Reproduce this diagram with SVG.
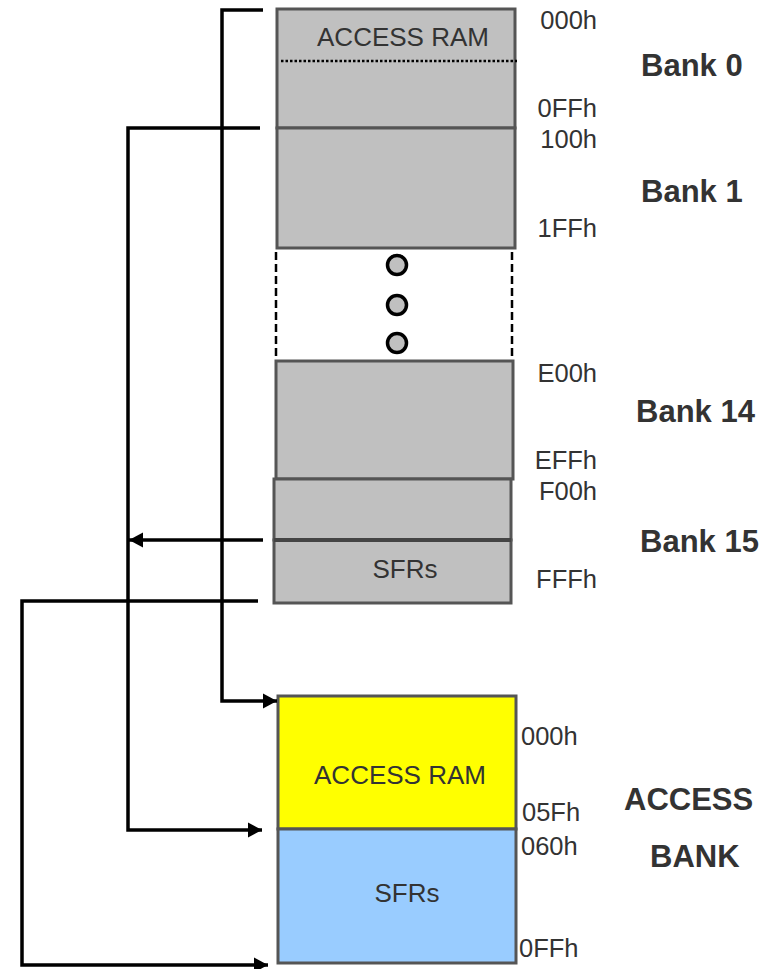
<svg xmlns="http://www.w3.org/2000/svg" width="770" height="969" viewBox="0 0 770 969">
<defs>
<style>
.bank{fill:#c0c0c0;stroke:#555555;stroke-width:3}
.hex{font-family:"Liberation Sans",Arial,sans-serif;font-size:25.5px;fill:#333333}
.lbl{font-family:"Liberation Sans",Arial,sans-serif;font-size:31px;font-weight:bold;fill:#333333}
.in{font-family:"Liberation Sans",Arial,sans-serif;font-size:26px;fill:#333333;text-anchor:middle}
.conn{fill:none;stroke:#000000;stroke-width:3.5}
.dot{fill:#c0c0c0;stroke:#000000;stroke-width:3.5}
</style>
<marker id="arr" markerUnits="userSpaceOnUse" markerWidth="15" markerHeight="16" refX="14" refY="8" orient="auto">
<path d="M0,0.5 L14,8 L0,15.5 z" fill="#000000"/>
</marker>
</defs>
<rect width="770" height="969" fill="#ffffff"/>

<g id="bank0">
<rect class="bank" x="277" y="9" width="238" height="119"/>
<line x1="281" y1="61" x2="517" y2="61" stroke="#000000" stroke-width="2.5" stroke-dasharray="2.5 2"/>
<text class="in" x="403" y="46">ACCESS RAM</text>
<text class="hex" x="597" y="29" text-anchor="end">000h</text>
<text class="hex" x="597" y="117" text-anchor="end">0FFh</text>
<text class="lbl" x="641" y="76">Bank 0</text>
</g>

<g id="bank1">
<rect class="bank" x="277" y="128" width="238" height="120"/>
<text class="hex" x="597" y="148" text-anchor="end">100h</text>
<text class="hex" x="597" y="237" text-anchor="end">1FFh</text>
<text class="lbl" x="641" y="202">Bank 1</text>
</g>

<g id="ellipsis">
<line x1="276" y1="252" x2="276" y2="358" stroke="#000000" stroke-width="2.5" stroke-dasharray="8 4"/>
<line x1="512" y1="252" x2="512" y2="358" stroke="#000000" stroke-width="2.5" stroke-dasharray="8 4"/>
<circle class="dot" cx="397" cy="265" r="9.5"/>
<circle class="dot" cx="397" cy="305" r="9.5"/>
<circle class="dot" cx="397" cy="343" r="9.5"/>
</g>

<g id="bank14">
<rect class="bank" x="276" y="361" width="237" height="118"/>
<text class="hex" x="597" y="382" text-anchor="end">E00h</text>
<text class="hex" x="597" y="469" text-anchor="end">EFFh</text>
<text class="lbl" x="636" y="422">Bank 14</text>
</g>

<g id="bank15">
<rect class="bank" x="274" y="479" width="237" height="61"/>
<rect class="bank" x="274" y="540" width="237" height="63"/>
<line x1="274" y1="540" x2="511" y2="540" stroke="#444444" stroke-width="4"/>
<text class="in" x="405" y="578">SFRs</text>
<text class="hex" x="597" y="500" text-anchor="end">F00h</text>
<text class="hex" x="597" y="588" text-anchor="end">FFFh</text>
<text class="lbl" x="640" y="552">Bank 15</text>
</g>

<g id="access-bank">
<rect x="278" y="696" width="238" height="133" fill="#ffff00" stroke="#555555" stroke-width="3"/>
<rect x="278" y="829" width="238" height="134" fill="#99ccff" stroke="#555555" stroke-width="3"/>
<text class="in" x="400" y="784">ACCESS RAM</text>
<text class="in" x="407" y="902">SFRs</text>
<text class="hex" x="521" y="745">000h</text>
<text class="hex" x="522" y="821">05Fh</text>
<text class="hex" x="521" y="855">060h</text>
<text class="hex" x="519" y="957">0FFh</text>
<text class="lbl" x="624" y="810">ACCESS</text>
<text class="lbl" x="650" y="867">BANK</text>
</g>

<g id="connectors">
<path class="conn" d="M263,10 H222 V701 H277" marker-end="url(#arr)"/>
<path class="conn" d="M260,128 H128 V830 H262" marker-end="url(#arr)"/>
<path class="conn" d="M263,540 H129" marker-end="url(#arr)"/>
<path class="conn" d="M258,601 H22 V965 H268" marker-end="url(#arr)"/>
</g>
</svg>
